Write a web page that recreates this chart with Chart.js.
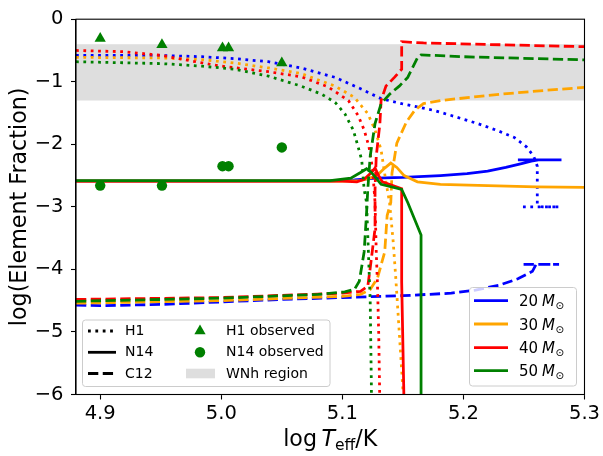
<!DOCTYPE html>
<html>
<head>
<meta charset="utf-8">
<script src="https://cdn.jsdelivr.net/npm/chart.js@4.4.0/dist/chart.umd.min.js"></script>
<style>
  html, body { margin: 0; padding: 0; background: #fff; }
  #wrap { width: 603px; height: 456px; }
</style>
</head>
<body>
<div id="wrap"><canvas id="elementChart" width="603" height="456"></canvas></div>
<script>
// axis ticks and ranges
const xTicks = [4.9, 5.0, 5.1, 5.2, 5.3];
const yTicks = [-6, -5, -4, -3, -2, -1, 0];
const xRange = [4.88, 5.3];
const yRange = [-6, 0];
const wnhBand = [-1.3, -0.4];

const massLabels = ['20', '30', '40', '50'];

// observed WNh stars
const obsLogT = [4.9, 4.951, 5.001, 5.006, 5.05];
const obsH1 = [-0.31, -0.41, -0.46, -0.46, -0.70];
const obsN14 = [-2.66, -2.66, -2.35, -2.35, -2.05];

// model tracks, [log Teff, log fraction]
const h1Track20 = [[4.88, -0.58], [4.95, -0.58], [4.984, -0.60], [5.011, -0.63], [5.039, -0.68], [5.066, -0.78], [5.094, -0.93], [5.116, -1.12], [5.132, -1.27], [5.149, -1.35], [5.164, -1.41], [5.176, -1.46], [5.19, -1.54], [5.212, -1.67], [5.228, -1.78], [5.242, -1.89], [5.252, -2.04], [5.258, -2.19], [5.261, -2.35], [5.261, -2.95], [5.265, -3.0], [5.279, -3.0], [5.247, -3.0]];
const n14Track20 = [[4.88, -2.59], [5.0, -2.59], [5.09, -2.585], [5.11, -2.57], [5.128, -2.54], [5.15, -2.53], [5.181, -2.50], [5.203, -2.47], [5.22, -2.43], [5.235, -2.37], [5.248, -2.31], [5.256, -2.27], [5.262, -2.25], [5.281, -2.25], [5.245, -2.25]];
const c12Track20 = [[4.88, -4.57], [4.9, -4.58], [4.95, -4.56], [5.0, -4.52], [5.05, -4.48], [5.1, -4.45], [5.15, -4.42], [5.19, -4.38], [5.21, -4.33], [5.23, -4.25], [5.245, -4.15], [5.257, -4.03], [5.26, -3.92], [5.279, -3.92], [5.246, -3.92]];

const h1Track30 = [[4.88, -0.61], [4.95, -0.62], [4.984, -0.645], [5.011, -0.70], [5.039, -0.78], [5.066, -0.87], [5.094, -1.07], [5.110, -1.25], [5.121, -1.51], [5.127, -1.77], [5.132, -2.09], [5.136, -2.6], [5.139, -2.93], [5.142, -3.56], [5.144, -4.1], [5.146, -4.7], [5.150, -5.92], [5.151, -6.2]];
const n14Track30 = [[4.88, -2.59], [5.1, -2.59], [5.115, -2.58], [5.128, -2.51], [5.135, -2.38], [5.140, -2.30], [5.145, -2.37], [5.151, -2.50], [5.162, -2.60], [5.181, -2.64], [5.22, -2.66], [5.26, -2.68], [5.3, -2.69]];
const c12Track30 = [[4.88, -4.54], [5.0, -4.50], [5.1, -4.43], [5.115, -4.40], [5.123, -4.32], [5.129, -4.14], [5.135, -3.72], [5.137, -3.14], [5.140, -2.93], [5.141, -2.46], [5.145, -1.98], [5.153, -1.64], [5.160, -1.45], [5.167, -1.35], [5.181, -1.30], [5.23, -1.20], [5.26, -1.15], [5.3, -1.09]];

const h1Track40 = [[4.88, -0.50], [4.92, -0.52], [4.951, -0.58], [4.973, -0.66], [5.0, -0.75], [5.039, -0.84], [5.066, -0.92], [5.088, -1.08], [5.105, -1.30], [5.113, -1.54], [5.118, -1.77], [5.122, -2.04], [5.125, -2.4], [5.127, -2.93], [5.128, -3.72], [5.129, -4.24], [5.130, -5.0], [5.131, -6.2]];
const n14Track40 = [[4.88, -2.59], [5.1, -2.59], [5.112, -2.60], [5.118, -2.56], [5.124, -2.45], [5.127, -2.38], [5.130, -2.50], [5.133, -2.60], [5.149, -2.71], [5.149, -4.2], [5.151, -6.2]];
const c12Track40 = [[4.88, -4.48], [5.0, -4.45], [5.1, -4.38], [5.115, -4.35], [5.121, -4.27], [5.123, -3.98], [5.127, -3.35], [5.127, -2.72], [5.128, -2.19], [5.131, -1.67], [5.132, -1.30], [5.136, -1.07], [5.143, -0.93], [5.149, -0.80], [5.149, -0.36], [5.167, -0.38], [5.3, -0.44]];

const h1Track50 = [[4.88, -0.68], [4.951, -0.71], [4.984, -0.75], [5.011, -0.80], [5.039, -0.91], [5.066, -1.07], [5.083, -1.20], [5.094, -1.33], [5.102, -1.51], [5.109, -1.77], [5.113, -2.04], [5.116, -2.25], [5.118, -2.72], [5.120, -2.93], [5.121, -3.45], [5.122, -3.98], [5.123, -4.5], [5.124, -5.9], [5.124, -6.2]];
const n14Track50 = [[4.88, -2.58], [5.09, -2.58], [5.107, -2.54], [5.115, -2.45], [5.120, -2.39], [5.124, -2.45], [5.127, -2.52], [5.132, -2.64], [5.149, -2.72], [5.154, -2.93], [5.165, -3.45], [5.165, -6.2]];
const c12Track50 = [[4.88, -4.51], [5.0, -4.46], [5.08, -4.40], [5.102, -4.36], [5.110, -4.32], [5.114, -4.19], [5.118, -3.72], [5.120, -3.1], [5.121, -2.72], [5.123, -2.19], [5.127, -1.67], [5.132, -1.35], [5.139, -1.20], [5.147, -1.07], [5.154, -0.93], [5.162, -0.62], [5.165, -0.57], [5.2, -0.60], [5.3, -0.65]];

const tracks = [
  [h1Track20, n14Track20, c12Track20],
  [h1Track30, n14Track30, c12Track30],
  [h1Track40, n14Track40, c12Track40],
  [h1Track50, n14Track50, c12Track50]
];

// styles
const massColors = ['#0000ff', '#ffa500', '#ff0000', '#008000'];
const LW = 2.78;
const DOTTED = [2.78, 4.59];
const DASHED = [10.3, 4.45];
const lineDashes = [DOTTED, [], DASHED];
const FONT = '"DejaVu Sans", sans-serif';

function toPoints(pairs) {
  return pairs.map((p) => ({ x: p[0], y: p[1] }));
}

function buildDatasets() {
  const sets = [];
  tracks.forEach((group, m) => {
    group.forEach((pairs, k) => {
      sets.push({
        data: toPoints(pairs),
        showLine: true,
        borderColor: massColors[m],
        backgroundColor: massColors[m],
        borderWidth: LW,
        borderDash: lineDashes[k],
        borderCapStyle: 'butt',
        pointRadius: 0,
        pointHoverRadius: 0,
        fill: false
      });
    });
  });
  sets.push({
    data: obsLogT.map((t, i) => ({ x: t, y: obsH1[i] })),
    showLine: false,
    pointStyle: 'triangle',
    pointRadius: 6.5,
    backgroundColor: '#008000',
    borderColor: '#008000',
    borderWidth: 0
  });
  sets.push({
    data: obsLogT.map((t, i) => ({ x: t, y: obsN14[i] })),
    showLine: false,
    pointStyle: 'circle',
    pointRadius: 5.2,
    backgroundColor: '#008000',
    borderColor: '#008000',
    borderWidth: 0
  });
  // later datasets on top, like matplotlib
  sets.forEach((s, i) => { s.order = sets.length - i; });
  return sets;
}

function roundBox(ctx, x, y, w, h, r) {
  ctx.beginPath();
  ctx.moveTo(x + r, y);
  ctx.arcTo(x + w, y, x + w, y + h, r);
  ctx.arcTo(x + w, y + h, x, y + h, r);
  ctx.arcTo(x, y + h, x, y, r);
  ctx.arcTo(x, y, x + w, y, r);
  ctx.closePath();
  ctx.fillStyle = 'rgba(255,255,255,0.8)';
  ctx.fill();
  ctx.strokeStyle = '#cccccc';
  ctx.lineWidth = 1;
  ctx.stroke();
}

function sampleLine(ctx, x1, x2, y, color, dash) {
  ctx.save();
  ctx.beginPath();
  ctx.setLineDash(dash);
  ctx.lineCap = 'butt';
  ctx.strokeStyle = color;
  ctx.lineWidth = LW;
  ctx.moveTo(x1, y);
  ctx.lineTo(x2, y);
  ctx.stroke();
  ctx.restore();
}

const bandPlugin = {
  id: 'wnhBand',
  beforeDatasetsDraw(chart) {
    const { ctx, chartArea, scales } = chart;
    const yTop = scales.y.getPixelForValue(wnhBand[1]);
    const yBot = scales.y.getPixelForValue(wnhBand[0]);
    ctx.save();
    ctx.fillStyle = '#dedede';
    ctx.fillRect(chartArea.left, yTop, chartArea.right - chartArea.left, yBot - yTop);
    ctx.restore();
  }
};

const decorPlugin = {
  id: 'decor',
  afterDatasetsDraw(chart) {
    const { ctx, chartArea } = chart;
    ctx.save();
    // frame
    ctx.strokeStyle = '#000';
    ctx.lineWidth = 1.1;
    ctx.strokeRect(chartArea.left, chartArea.top, chartArea.right - chartArea.left, chartArea.bottom - chartArea.top);

    // x axis title: log T_eff / K
    const big = 22.2;
    const parts = [
      { t: 'log', f: big + 'px ' + FONT, dy: 0 },
      { t: '\u2009', f: big + 'px ' + FONT, dy: 0 },
      { t: 'T', f: 'italic ' + big + 'px ' + FONT, dy: 0 },
      { t: 'eff', f: (big * 0.7) + 'px ' + FONT, dy: 3.6 },
      { t: '/K', f: big + 'px ' + FONT, dy: 0 }
    ];
    let total = 0;
    parts.forEach((p) => { ctx.font = p.f; p.w = ctx.measureText(p.t).width; total += p.w; });
    let px = (chartArea.left + chartArea.right) / 2 - total / 2;
    ctx.fillStyle = '#000';
    ctx.textBaseline = 'alphabetic';
    ctx.textAlign = 'left';
    parts.forEach((p) => { ctx.font = p.f; ctx.fillText(p.t, px, 446 + p.dy); px += p.w; });

    // element legend (lower left)
    roundBox(ctx, 82.5, 320, 247.5, 66.5, 3);
    const rows = [331, 352.3, 373.5];
    const names = ['H1', 'N14', 'C12'];
    ctx.font = '14px ' + FONT;
    ctx.textBaseline = 'middle';
    rows.forEach((ry, i) => {
      sampleLine(ctx, 88, 116, ry, '#000', lineDashes[i]);
      ctx.fillStyle = '#000';
      ctx.fillText(names[i], 125, ry + 0.5);
    });
    ctx.fillStyle = '#008000';
    ctx.beginPath();
    const tr = 6.5;
    ctx.moveTo(200, rows[0] - tr);
    ctx.lineTo(200 + tr * 0.866, rows[0] + tr / 2);
    ctx.lineTo(200 - tr * 0.866, rows[0] + tr / 2);
    ctx.closePath();
    ctx.fill();
    ctx.beginPath();
    ctx.arc(200, rows[1], 5.2, 0, Math.PI * 2);
    ctx.fill();
    ctx.fillStyle = '#dedede';
    ctx.fillRect(186, rows[2] - 4.8, 29, 9.6);
    ctx.fillStyle = '#000';
    ctx.fillText('H1 observed', 226, rows[0] + 0.5);
    ctx.fillText('N14 observed', 226, rows[1] + 0.5);
    ctx.fillText('WNh region', 226, rows[2] + 0.5);

    // mass legend (lower right)
    roundBox(ctx, 469.5, 287.5, 107, 98.5, 3);
    const mrows = [300.7, 324, 347.7, 370.7];
    mrows.forEach((ry, i) => {
      sampleLine(ctx, 474, 508, ry, massColors[i], []);
      let tx = 519;
      ctx.fillStyle = '#000';
      ctx.textBaseline = 'alphabetic';
      ctx.font = '15px ' + FONT;
      ctx.fillText(massLabels[i], tx, ry + 5.5);
      tx += ctx.measureText(massLabels[i]).width + 4;
      ctx.font = 'italic 15px ' + FONT;
      ctx.fillText('M', tx, ry + 5.5);
      tx += ctx.measureText('M').width + 0.5;
      ctx.font = '10.5px ' + FONT;
      ctx.fillText('\u2299', tx, ry + 8.5);
    });
    ctx.restore();
  }
};

function minusLabel(v) {
  return v < 0 ? '\u2212' + Math.abs(v) : String(v);
}

new Chart(document.getElementById('elementChart'), {
  type: 'scatter',
  data: { datasets: buildDatasets() },
  options: {
    responsive: false,
    animation: false,
    devicePixelRatio: 1,
    layout: { padding: { top: 15, right: 18.5, left: 0, bottom: 0 } },
    plugins: {
      legend: { display: false },
      tooltip: { enabled: false }
    },
    scales: {
      x: {
        type: 'linear',
        min: xRange[0],
        max: xRange[1],
        afterBuildTicks: (scale) => { scale.ticks = xTicks.map((v) => ({ value: v })); },
        afterFit: (scale) => { scale.height = 61.5; },
        grid: { display: true, drawOnChartArea: false, drawTicks: true, tickLength: 5, tickColor: '#000', tickWidth: 1.1 },
        border: { display: true, color: '#000', width: 1.1 },
        ticks: {
          autoSkip: false,
          maxRotation: 0,
          padding: 3,
          color: '#000',
          font: { family: FONT, size: 19.5 },
          callback: (v) => Number(v).toFixed(1)
        }
      },
      y: {
        type: 'linear',
        min: yRange[0],
        max: yRange[1],
        afterBuildTicks: (scale) => { scale.ticks = yTicks.map((v) => ({ value: v })); },
        afterFit: (scale) => { scale.width = 76; },
        grid: { display: true, drawOnChartArea: false, drawTicks: true, tickLength: 5, tickColor: '#000', tickWidth: 1.1 },
        border: { display: true, color: '#000', width: 1.1 },
        title: {
          display: true,
          text: 'log(Element Fraction)',
          color: '#000',
          font: { family: FONT, size: 22.2 },
          padding: { top: 7, bottom: 0 }
        },
        ticks: {
          autoSkip: false,
          padding: 7.5,
          color: '#000',
          font: { family: FONT, size: 19.5 },
          callback: (v) => minusLabel(v)
        }
      }
    }
  },
  plugins: [bandPlugin, decorPlugin]
});
</script>
</body>
</html>
